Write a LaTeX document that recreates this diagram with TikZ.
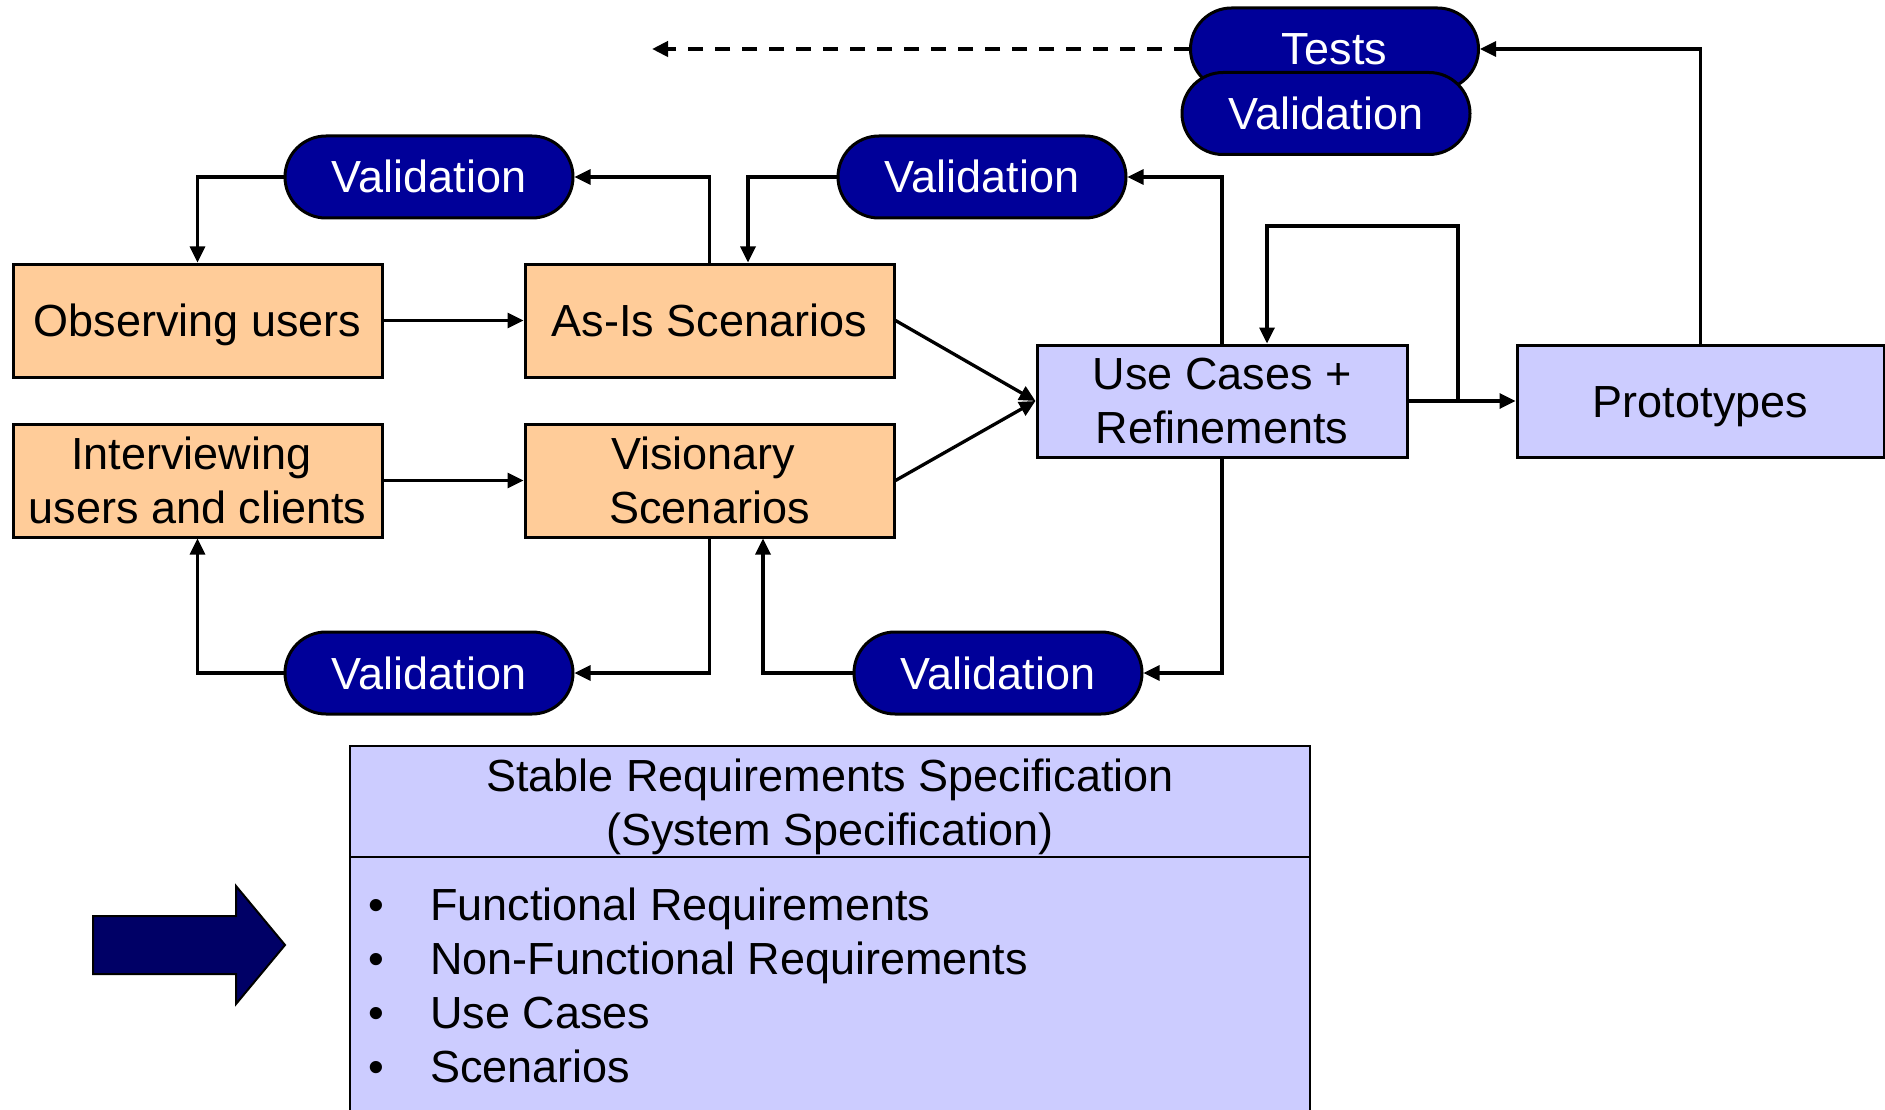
\documentclass[tikz,border=0pt]{standalone}
\usepackage{fontspec}
\setmainfont{Liberation Sans}
\usetikzlibrary{arrows.meta}
\definecolor{peach}{HTML}{FFCC99}
\definecolor{lav}{HTML}{CCCCFF}
\definecolor{pillblue}{HTML}{000099}
\definecolor{navy}{HTML}{000066}
\tikzset{
  every node/.style={font={\fontsize{45}{54}\selectfont}, inner sep=0pt},
  oneline/.style={text height=32pt, text depth=0pt},
  orbox/.style={draw, line width=3pt, fill=peach, minimum width=369pt, minimum height=113pt, align=center},
  lvbox/.style={draw, line width=3pt, fill=lav, minimum width=370pt, minimum height=112pt, align=center},
  pill/.style={draw, line width=3pt, fill=pillblue, text=white, rounded corners=41pt, minimum width=288pt, minimum height=82pt, oneline},
  arr/.style={line width=3.3pt, -{Triangle[length=16pt,width=15pt]}},
  dasharr/.style={line width=4pt, dash pattern=on 15pt off 12pt, -{Triangle[length=16pt,width=15pt]}},
}
\begin{document}
\begin{tikzpicture}[x=1pt,y=-1pt]
\useasboundingbox (0,0) rectangle (1885,1110);
\clip (0,0) rectangle (1885,1110);
\fill[white] (0,0) rectangle (1885,1110);

% boxes
\node[orbox, oneline] (obs) at (197.5,320.5) {Observing users};
\node[orbox, oneline] (asis) at (709.5,320.5) {As-Is Scenarios};
\node[orbox] (intv) at (197.5,480.5) {Interviewing\hspace*{12.5pt}\\users and clients};
\node[orbox] (vis) at (709.5,480.5) {Visionary\hspace*{12.5pt}\\Scenarios};
\node[lvbox] (uc) at (1222,401) {Use Cases +\\Refinements};
\node[lvbox, oneline, minimum width=367pt] (proto) at (1700.5,401) {Prototypes};

% pills
\node[pill] (v1) at (429,177) {Validation};
\node[pill] (v2) at (982,177) {Validation};
\node[pill] (v3) at (429,673) {Validation};
\node[pill] (v4) at (998,673) {Validation};
\node[pill] (tests) at (1334.5,49) {Tests};
\node[pill] (vt) at (1326,113.5) {Validation};

% connectors
\draw[arr] (obs.east) -- (asis.west);
\draw[arr] (intv.east) -- (vis.west);
\draw[arr] (asis.east) -- (uc.west);
\draw[arr] (vis.east) -- (uc.west);
\draw[arr] (asis.north) |- (v1.east);
\draw[arr] (v1.west) -| (obs.north);
\draw[arr] (v2.west) -| ([xshift=38.5pt]asis.north);
\draw[arr] (uc.north) |- (v2.east);
\draw[arr] (vis.south) |- (v3.east);
\draw[arr] (v3.west) -| (intv.south);
\draw[arr] (v4.west) -| ([xshift=53.5pt]vis.south);
\draw[arr] (uc.south) |- (v4.east);
\draw[arr] (uc.east) -- (proto.west);
\coordinate (lp) at (1458,401);
\coordinate (lptop) at (1458,226);
\draw[arr] (lp) -- (lptop) -| ([xshift=45pt]uc.north);
\draw[arr] (proto.north) |- (tests.east);
\coordinate (dashend) at (652,49);
\draw[dasharr] (tests.west) -- (dashend);

% big arrow
\draw[fill=navy, line width=2pt, line join=miter] (93,916) -- (236,916) -- (236,886) -- (285,945) -- (236,1004) -- (236,974) -- (93,974) -- cycle;

% specification box
\node[draw, line width=2.5pt, fill=lav, minimum width=960pt, minimum height=380pt] (spec) at (830,936) {};
\coordinate (divl) at (350,857);
\coordinate (divr) at (1310,857);
\draw[line width=2.5pt] (divl) -- (divr);
\node[anchor=base] (h1) at (830,791) {Stable Requirements Specification};
\node[anchor=base] (h2) at (830,845) {(System Specification)};
\node[anchor=base] (b1) at (376,920) {•};
\node[anchor=base] (b2) at (376,974) {•};
\node[anchor=base] (b3) at (376,1028) {•};
\node[anchor=base] (b4) at (376,1082) {•};
\node[anchor=base west] (t1) at (430,920) {Functional Requirements};
\node[anchor=base west] (t2) at (430,974) {Non-Functional Requirements};
\node[anchor=base west] (t3) at (430,1028) {Use Cases};
\node[anchor=base west] (t4) at (430,1082) {Scenarios};
\end{tikzpicture}
\end{document}
